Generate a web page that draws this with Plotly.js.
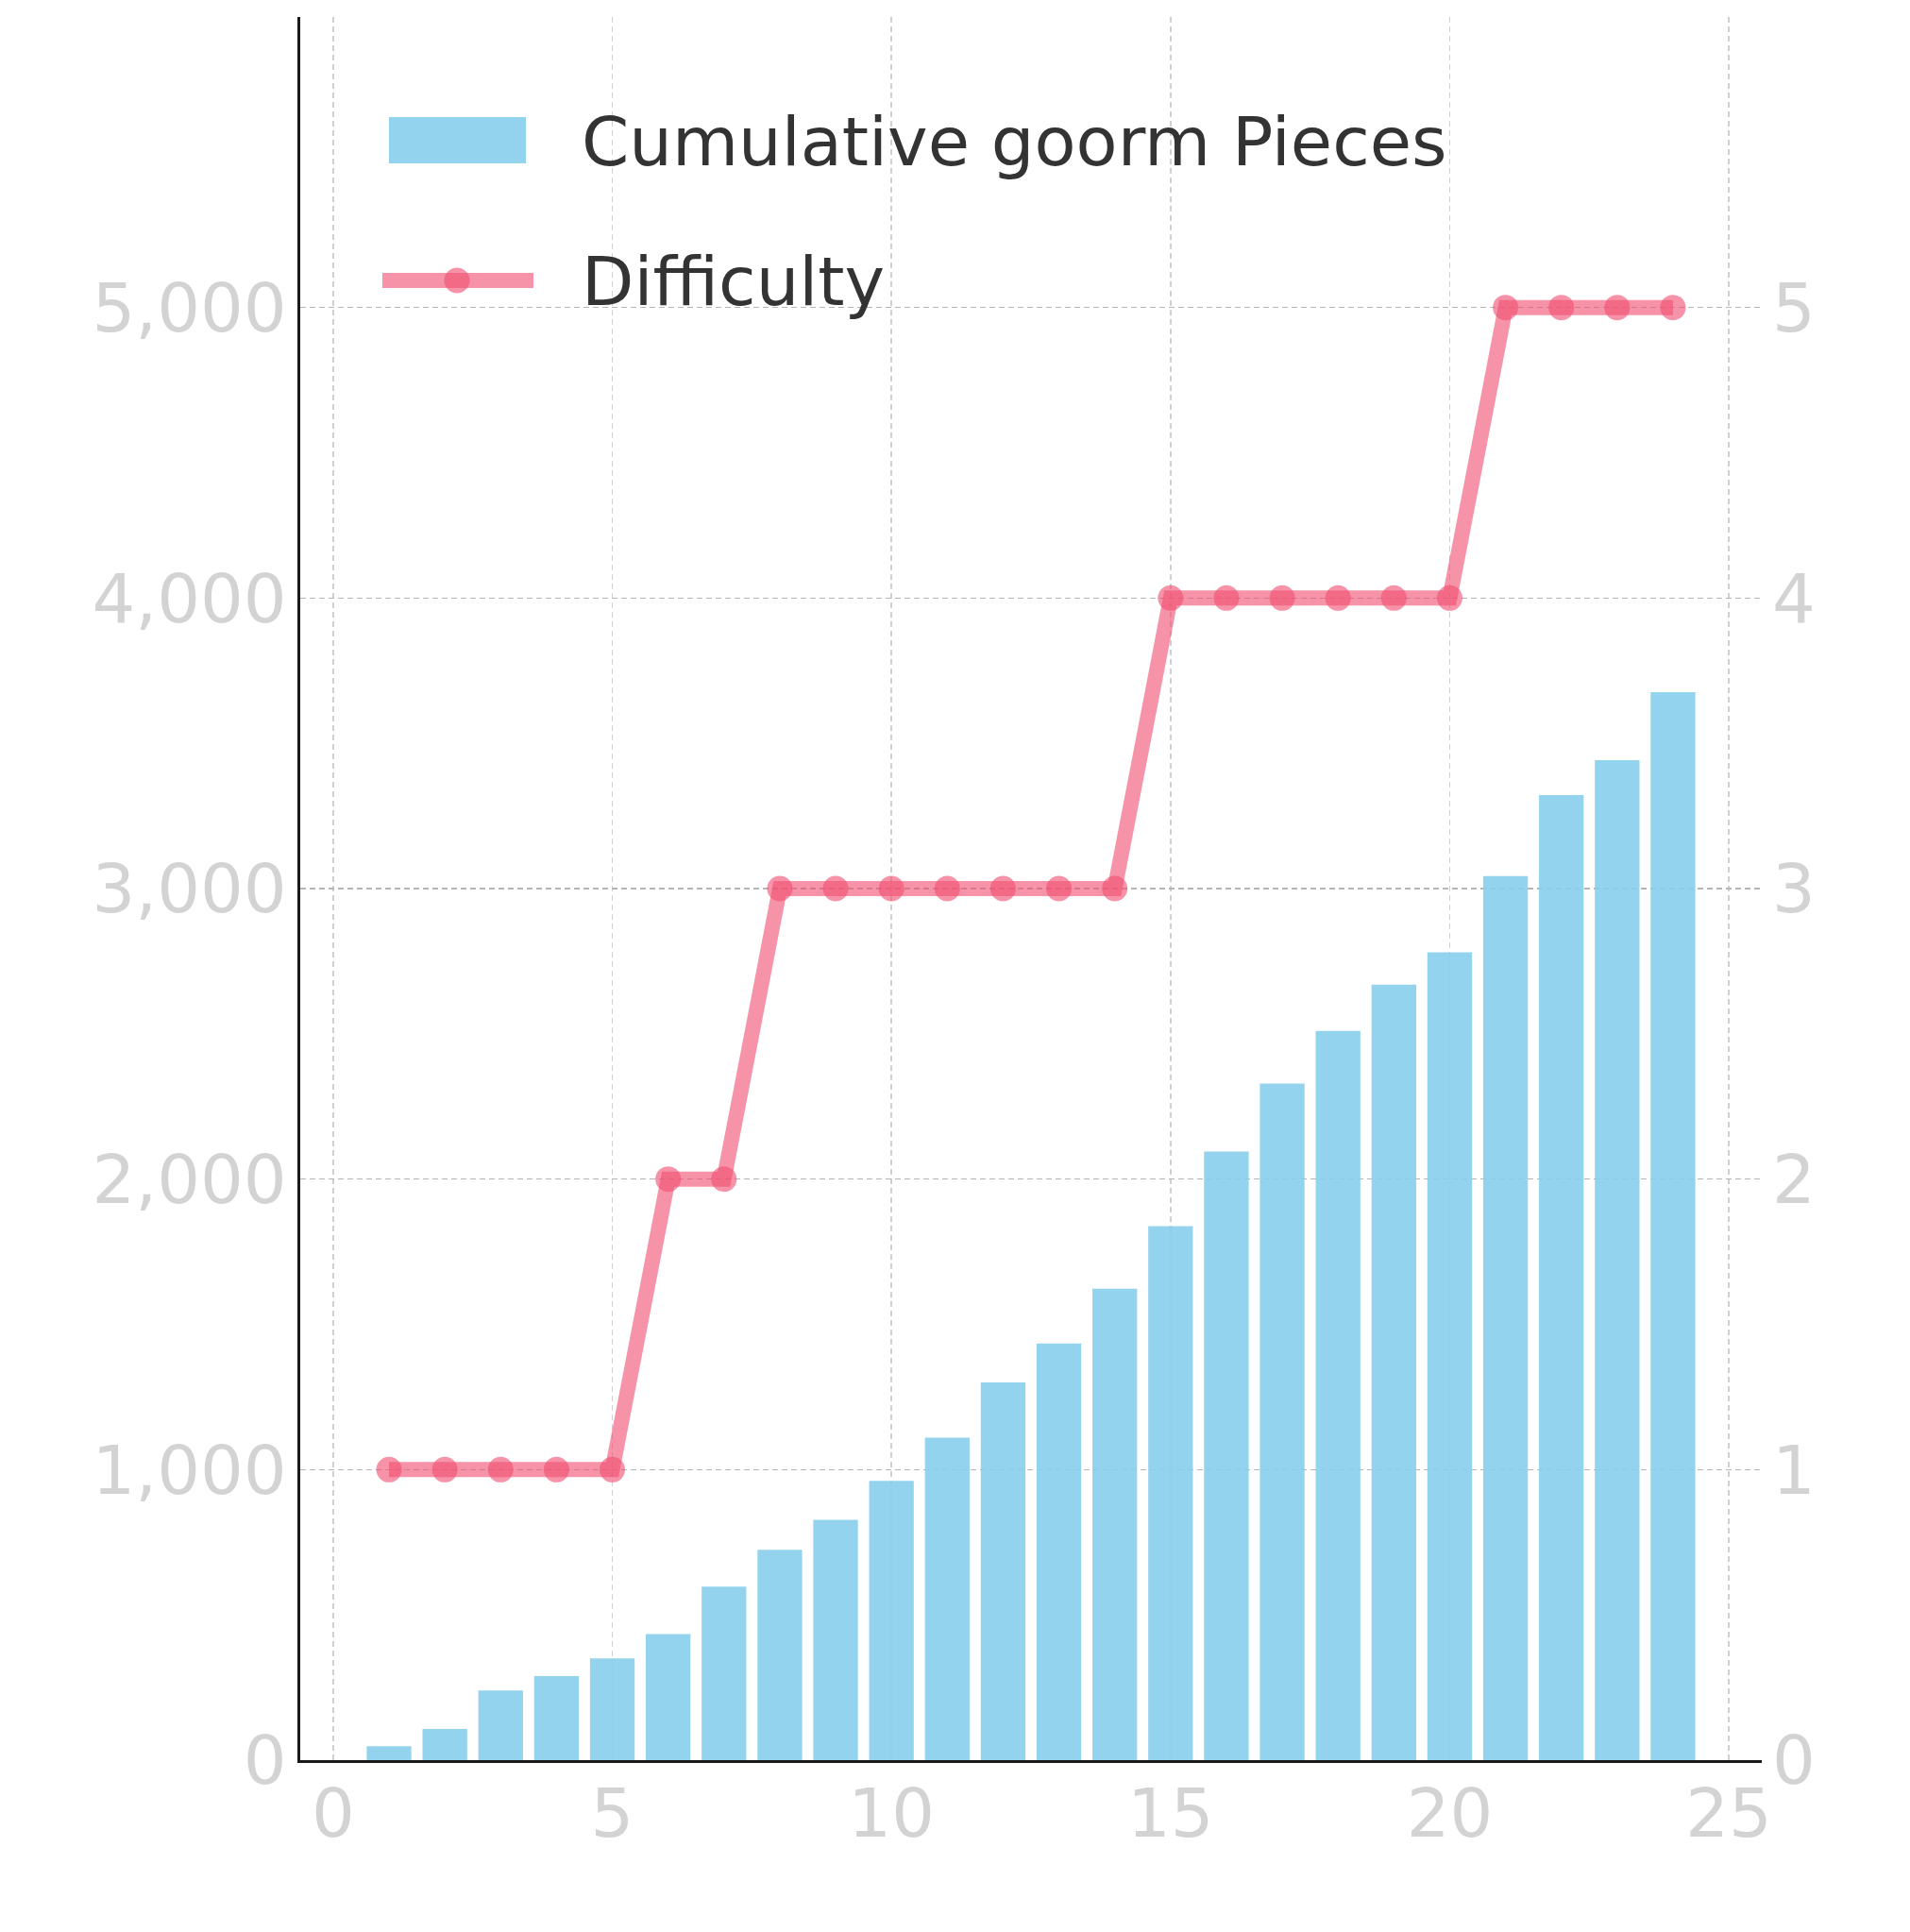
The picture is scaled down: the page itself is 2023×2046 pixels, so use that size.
<!DOCTYPE html>
<html>
<head>
<meta charset="utf-8">
<script src="https://cdn.plot.ly/plotly-3.0.1.min.js"></script>
<style>
  body { margin: 0; background: #fff; }
  #chart { width: 2023px; height: 2046px; }
</style>
</head>
<body>
<div id="chart"></div>
<script>
// data
var stages = [1, 2, 3, 4, 5, 6, 7, 8, 9, 10, 11, 12, 13, 14, 15, 16, 17, 18, 19, 20, 21, 22, 23, 24];
var cumulativePieces = [48, 107, 240, 289, 350, 434, 597, 724, 827, 961, 1110, 1300, 1434, 1623,
                        1838, 2095, 2329, 2510, 2669, 2781, 3043, 3322, 3442, 3676];
var difficulty = [1, 1, 1, 1, 1, 2, 2, 3, 3, 3, 3, 3, 3, 3, 4, 4, 4, 4, 4, 4, 5, 5, 5, 5];

var xTicks = [0, 5, 10, 15, 20, 25];
var leftTicks = [0, 1000, 2000, 3000, 4000, 5000];
var leftTickText = ['0', '1,000', '2,000', '3,000', '4,000', '5,000'];
var rightTicks = [0, 1, 2, 3, 4, 5];

var barName = 'Cumulative goorm Pieces';
var lineName = 'Difficulty';
var barColor = '#87ceeb';
var lineColor = 'rgba(240, 80, 115, 0.62)';

var W = 2023, H = 2046;
var M = { l: 318, r: 157, t: 18, b: 182 };

// pixel -> paper helpers for the hand-placed legend
function px(x) { return (x - M.l) / (W - M.l - M.r); }
function py(y) { return (H - M.b - y) / (H - M.t - M.b); }

var tickFont = { family: 'DejaVu Sans', size: 72, color: '#d3d3d3' };
var legendFont = { family: 'DejaVu Sans', size: 72, color: '#333333' };

var bars = {
    x: stages,
    y: cumulativePieces,
    type: 'bar',
    name: barName,
    width: 0.8,
    marker: { color: barColor, opacity: 0.9 }
};

var line = {
    x: stages,
    y: difficulty,
    yaxis: 'y2',
    type: 'scatter',
    mode: 'lines+markers',
    name: lineName,
    line: { color: lineColor, width: 16 },
    marker: { color: lineColor, size: 27 }
};

var legendShapes = [
    { type: 'rect', xref: 'paper', yref: 'paper', layer: 'above',
      x0: px(412), x1: px(557), y0: py(124), y1: py(173),
      fillcolor: barColor, opacity: 0.9, line: { width: 0 } },
    { type: 'line', xref: 'paper', yref: 'paper', layer: 'above',
      x0: px(405), x1: px(565), y0: py(297), y1: py(297),
      line: { color: lineColor, width: 16 } },
    { type: 'circle', xref: 'paper', yref: 'paper', layer: 'above',
      x0: px(470.5), x1: px(497.5), y0: py(283.5), y1: py(310.5),
      fillcolor: lineColor, line: { width: 0 } }
];

var legendText = [
    { xref: 'paper', yref: 'paper', x: px(614), y: py(150), xanchor: 'left', yanchor: 'middle',
      text: barName, showarrow: false, font: legendFont },
    { xref: 'paper', yref: 'paper', x: px(614), y: py(298), xanchor: 'left', yanchor: 'middle',
      text: lineName, showarrow: false, font: legendFont }
];

var layout = {
    width: W,
    height: H,
    margin: M,
    paper_bgcolor: '#fff',
    plot_bgcolor: '#fff',
    font: { family: 'DejaVu Sans', color: '#333' },
    showlegend: false,
    shapes: legendShapes,
    annotations: legendText,
    xaxis: {
        range: [-0.59, 25.59],
        tickvals: xTicks,
        ticks: '',
        ticklen: 0,
        tickfont: tickFont,
        showgrid: true,
        gridcolor: '#d0d0d0',
        gridwidth: 1.5,
        griddash: '6px,4px',
        showline: true,
        linecolor: '#1a1a1a',
        linewidth: 3,
        zeroline: false,
        ticklabelstandoff: -8
    },
    yaxis: {
        range: [0, 6000],
        tickvals: leftTicks,
        ticktext: leftTickText,
        ticks: '',
        ticklen: 0,
        tickfont: tickFont,
        showgrid: true,
        gridcolor: '#b5b5b5',
        gridwidth: 1.5,
        griddash: '6px,4px',
        showline: true,
        linecolor: '#1a1a1a',
        linewidth: 3,
        zeroline: false,
        ticklabelstandoff: -3
    },
    yaxis2: {
        range: [0, 6],
        overlaying: 'y',
        side: 'right',
        tickvals: rightTicks,
        ticks: '',
        ticklen: 0,
        tickfont: tickFont,
        showgrid: false,
        showline: false,
        zeroline: false,
        ticklabelstandoff: 10
    }
};

Plotly.newPlot('chart', [bars, line], layout, { staticPlot: true });
</script>
</body>
</html>
